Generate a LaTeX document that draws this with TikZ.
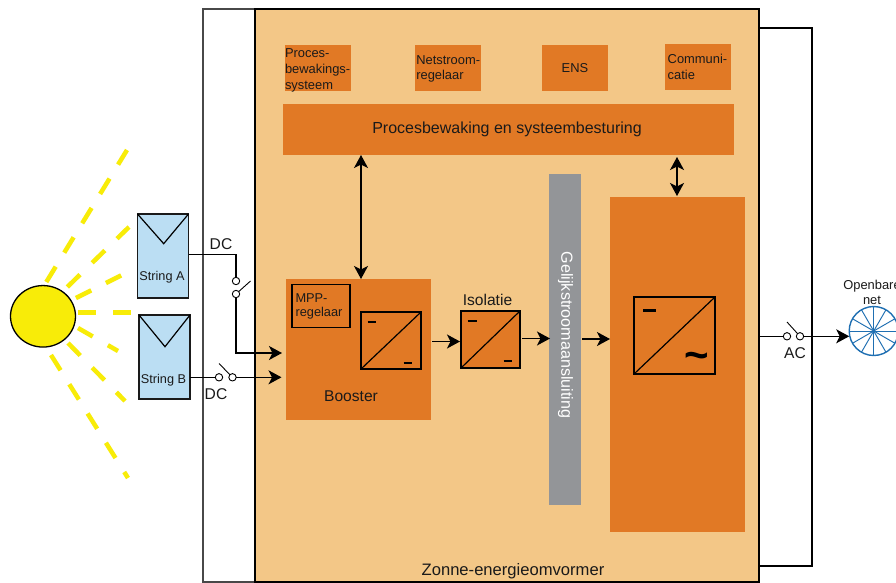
\documentclass[tikz,border=0pt]{standalone}
\usepackage{fontspec}
\setmainfont{Liberation Sans}
\usetikzlibrary{arrows.meta,shapes.geometric}
\definecolor{lightor}{HTML}{F3C787}
\definecolor{darkor}{HTML}{E17925}
\definecolor{panelb}{HTML}{BBDEF3}
\definecolor{busgrey}{HTML}{939598}
\definecolor{sunyel}{HTML}{F8EC08}
\definecolor{wheelb}{HTML}{1F6FB2}
\definecolor{ink}{HTML}{1A1A1A}
\tikzset{
  every node/.style={inner sep=0pt,outer sep=0pt,text=ink},
  lbl/.style={font=\fontsize{15.6}{18}\selectfont,align=center},
  small/.style={font=\fontsize{12.9}{15.6}\selectfont,align=left},
  orbox/.style={fill=darkor,draw=none,anchor=north west},
  conv/.style={draw=black,line width=1.5pt,fill=darkor,anchor=north west},
  wire/.style={draw=black,line width=1.2pt},
  arr/.style={wire,-{Stealth[length=13pt,width=14pt,inset=3.5pt]}},
  darr/.style={wire,{Stealth[length=13pt,width=14pt,inset=3.5pt]}-{Stealth[length=13pt,width=14pt,inset=3.5pt]}},
  sw/.style={circle,draw=black,line width=0.9pt,fill=white,minimum size=7.4pt},
  ray/.style={draw=sunyel,line width=4.5pt},
  minus/.style={draw=black,line width=2.4pt},
  panel/.style={draw=ink,line width=1.3pt,fill=panelb,anchor=north west},
}
\begin{document}
\begin{tikzpicture}[x=1pt,y=-1pt]
\useasboundingbox (0,0) rectangle (896,582);
\clip (0,0) rectangle (896,582);
\fill[white] (0,0) rectangle (896,582);
% enclosures
\node[draw=ink!80,line width=1.4pt,anchor=north west,minimum width=52pt,minimum height=573pt] (leftbay) at (203,9) {};
\node[draw=black,line width=1.1pt,anchor=north west,minimum width=53pt,minimum height=538pt] (rightbay) at (759,28) {};
\node[draw=black,line width=1.3pt,fill=lightor,anchor=north west,minimum width=504pt,minimum height=573pt] (main) at (255,9) {};
\node[font=\fontsize{16.6}{18}\selectfont] (title) at (513,571) {Zonne-energieomvormer};
% rays
\draw[ray,dash pattern=on 18pt off 16.4pt] (46.3,282) -- (127,150);
\draw[ray,dash pattern=on 17.7pt off 17pt] (67.3,287) -- (129,227);
\draw[ray,dash pattern=on 17pt off 16.5pt] (76,298) -- (122,275);
\draw[ray,dash pattern=on 17.7pt off 17.5pt] (78,312.5) -- (131,312.5);
\draw[ray,dash pattern=on 17pt off 17.5pt] (78,328) -- (118,351);
\draw[ray,dash pattern=on 17.5pt off 17pt] (68,343) -- (125,401);
\draw[ray,dash pattern=on 18pt off 16.5pt] (51,355) -- (128,478);
% sun
\node[ellipse,draw=black,line width=1.3pt,fill=sunyel,minimum width=65pt,minimum height=61.5pt] (sun) at (43,316.3) {};
% panels
\node[panel,minimum width=51pt,minimum height=84pt] (strA) at (137.5,214) {};
\node[panel,minimum width=51pt,minimum height=84pt] (strB) at (139,315) {};
\coordinate (vA) at (163.7,243.7);
\coordinate (vB) at (165,346.7);
\draw[wire] (strA.north west) -- (vA) -- (strA.north east);
\draw[wire] (strB.north west) -- (vB) -- (strB.north east);
\node[font=\fontsize{12.7}{14}\selectfont] (lblA) at (162,277.5) {String A};
\node[font=\fontsize{12.7}{14}\selectfont] (lblB) at (163.5,380.5) {String B};
% top boxes
\node[orbox,minimum width=66pt,minimum height=46pt] (b1) at (285,45) {};
\node[small,anchor=north west] (t1) at (285,49) {Proces-\\bewakings-\\systeem};
\node[orbox,minimum width=66pt,minimum height=46pt] (b2) at (415,45) {};
\node[small,anchor=north west] (t2) at (416.3,55.5) {Netstroom-\\regelaar};
\node[orbox,minimum width=66pt,minimum height=46pt,font=\fontsize{12.9}{14}\selectfont] (b3) at (542,45) {ENS};
\node[orbox,minimum width=66pt,minimum height=46pt] (b4) at (665,44) {};
\node[small,anchor=north west] (t4) at (667.7,54.5) {Communi-\\catie};
\node[orbox,minimum width=451pt,minimum height=51pt] (bewaking) at (283,104) {};
\node[font=\fontsize{16}{18}\selectfont] (bewtxt) at (507,129) {Procesbewaking en systeembesturing};
% booster
\node[orbox,minimum width=145pt,minimum height=141pt] (booster) at (286,279) {};
\node[draw=black,line width=1.3pt,anchor=north west,minimum width=58pt,minimum height=43pt] (mpp) at (292,284.5) {};
\node[font=\fontsize{12.8}{14.5}\selectfont,align=left,anchor=north west] (mppt) at (295.5,293.5) {MPP-\\regelaar};
\node[lbl] (bootxt) at (351,396) {Booster};
\node[conv,minimum width=60pt,minimum height=57pt] (c1) at (361,312) {};
\draw[wire] (c1.south west) -- (c1.north east);
\draw[minus] (367.5,321.7) -- (376,321.7);
\draw[minus] (403.7,362.7) -- (412.3,362.7);
% isolation
\node[lbl] (isotxt) at (487.5,300) {Isolatie};
\node[conv,minimum width=59pt,minimum height=57pt] (c2) at (461,311) {};
\draw[wire] (c2.south west) -- (c2.north east);
\draw[minus] (467.5,320.7) -- (476.5,320.7);
\draw[minus] (503.5,360.7) -- (512,360.7);
% bus
\node[fill=busgrey,anchor=north west,minimum width=32pt,minimum height=331pt] (bus) at (549,174) {};
\node[rotate=-90,text=white,font=\fontsize{16.1}{18}\selectfont] (bustxt) at (565.5,335) {Gelijkstroomaansluiting};
% inverter
\node[orbox,minimum width=135pt,minimum height=335pt] (inv) at (610,197) {};
\node[conv,minimum width=81pt,minimum height=77pt] (c3) at (634,297) {};
\draw[wire] (c3.south west) -- (c3.north east);
\draw[draw=black,line width=3pt] (643,310) -- (655.5,310);
\node[font=\bfseries\fontsize{42}{42}\selectfont,text=black] (tilde) at (696.5,361) {\char"7E};
% internal connectors
\coordinate (d1a) at (361,155);
\coordinate (d1b) at (361,279);
\draw[darr] (d1a) -- (d1b);
\coordinate (d2a) at (677,157);
\coordinate (d2b) at (677,196);
\draw[darr] (d2a) -- (d2b);
\coordinate (a1s) at (432,341.5);
\coordinate (a1e) at (460,341.5);
\draw[arr] (a1s) -- (a1e);
\coordinate (a2s) at (522,338.5);
\coordinate (a2e) at (550,338.5);
\draw[arr] (a2s) -- (a2e);
\coordinate (a3s) at (582,339);
\coordinate (a3e) at (610,339);
\draw[arr] (a3s) -- (a3e);
% string A wiring
\node[sw] (sa1) at (236,281) {};
\node[sw] (sa2) at (236,294) {};
\coordinate (la) at (250.5,281);
\coordinate (ia) at (282,353);
\draw[wire] (strA.east |- 0,254.5) -- (236,254.5) -- (sa1);
\draw[wire,line width=0.9pt] (sa2) -- (la);
\draw[arr] (sa2) -- (236,353) -- (ia);
\node[lbl] (dc1) at (221,244) {DC};
% string B wiring
\node[sw] (sb1) at (219,377.3) {};
\node[sw] (sb2) at (232.5,377.3) {};
\coordinate (lb) at (219,363.5);
\coordinate (ib) at (281.5,377.3);
\draw[wire] (strB.east |- 0,377.3) -- (sb1);
\draw[wire,line width=0.9pt] (sb2) -- (lb);
\draw[arr] (sb2) -- (ib);
\node[lbl] (dc2) at (216,394.5) {DC};
% grid
\node[circle,draw=wheelb,line width=1.4pt,fill=white,minimum size=49pt] (wheel) at (873.7,331) {};
\foreach \ang in {0,30,...,330}{
  \draw[draw=wheelb,line width=0.95pt] (wheel.center) -- (wheel.\ang);
}
\node[sw] (sg1) at (787,336.3) {};
\node[sw] (sg2) at (800,336.3) {};
\coordinate (lg) at (787,322);
\draw[wire] (rightbay.west |- 0,336.3) -- (sg1);
\draw[wire,line width=0.9pt] (sg2) -- (lg);
\draw[arr] (sg2) -- (wheel.west |- 0,336.3);
\node[lbl] (ac) at (795,353) {AC};
\node[font=\fontsize{12.9}{15.6}\selectfont,align=center] (open) at (872,292.5) {Openbare\\net};
\end{tikzpicture}
\end{document}
